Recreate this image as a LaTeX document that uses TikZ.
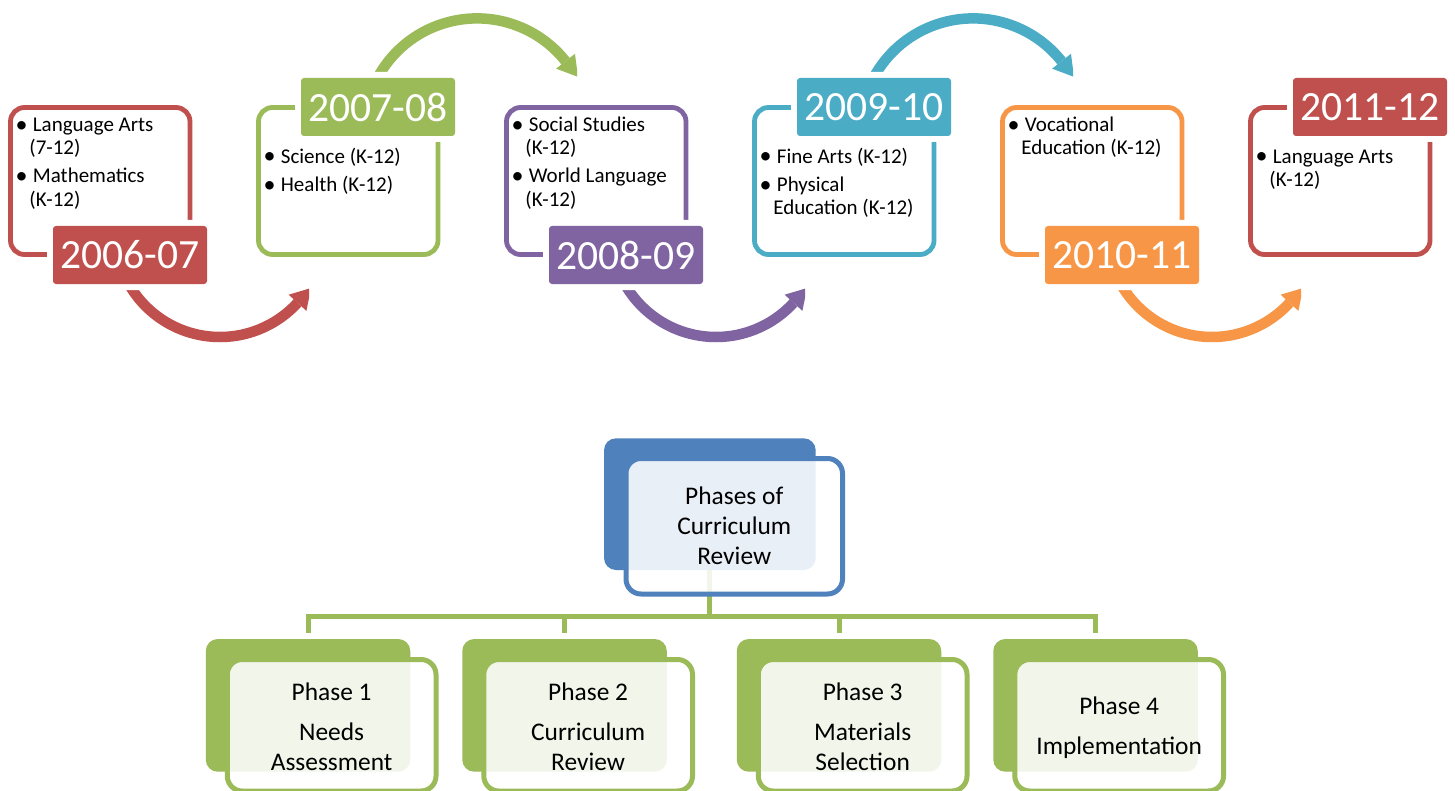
\documentclass[tikz,border=0pt]{standalone}
\usepackage{fontspec}
\setmainfont{Carlito}
\usetikzlibrary{calc}
\definecolor{cred}{HTML}{C0504D}
\definecolor{cgreen}{HTML}{9BBB59}
\definecolor{cpurple}{HTML}{8064A2}
\definecolor{cteal}{HTML}{4BACC6}
\definecolor{corange}{HTML}{F79646}
\definecolor{cblue}{HTML}{4F81BD}
\newcommand\oddarrow[3]{%
  \coordinate (#3) at (#1,232);
  \begin{scope}
    \clip (0,0) rectangle (#1+89,400);
    \draw[arrowband=#2] ($(#3)+(155:105)$) arc[start angle=155,end angle=42.4,radius=105];
    \fill[#2] ($(#3)+(42.4:93)$) -- ($(#3)+(42.4:117)$) -- ($(#3)+(42.4:105)+(-47.6:20)$) -- cycle;
  \end{scope}}
\newcommand\evenarrow[3]{%
  \coordinate (#3) at (#1,131.4);
  \begin{scope}
    \clip (0,0) rectangle (#1+100,400);
    \draw[arrowband=#2] ($(#3)+(205:113)$) arc[start angle=205,end angle=321.6,radius=113];
    \fill[#2] ($(#3)+(321.6:101)$) -- ($(#3)+(321.6:125)$) -- ($(#3)+(321.6:113)+(51.6:20)$) -- cycle;
  \end{scope}}
\begin{document}
\begin{tikzpicture}[x=0.5pt,y=-0.5pt,
  frame/.style={draw=#1, line width=2.4pt, rounded corners=7pt, minimum width=89.75pt, minimum height=73.5pt, inner sep=0pt, outer sep=0pt},
  year/.style={fill=#1, rounded corners=1.5pt, minimum width=77pt, minimum height=29pt, inner sep=0pt, outer sep=0pt, text=white, font=\fontsize{20.8}{24}\selectfont, preaction={draw=white, line width=6pt}},
  bul/.style={anchor=base, inner sep=0pt, font=\fontsize{12}{12}\selectfont},
  itm/.style={anchor=base west, inner sep=0pt, font=\fontsize{10.5}{12}\selectfont},
  arrowband/.style={draw=#1, line width=5.25pt},
  conn/.style={draw=cgreen, line width=2.5pt, line join=miter},
  hfill/.style={fill=#1, rounded corners=6pt, inner sep=0pt, outer sep=0pt},
  hout/.style={draw=#1, line width=2.5pt, fill=white, fill opacity=0.88, rounded corners=7.5pt, inner sep=0pt, outer sep=0pt},
  ptext/.style={align=center, inner sep=0pt, font=\fontsize{12.7}{15}\selectfont}
]
\clip (0,0) rectangle (1455,791);
\fill[white] (0,0) rectangle (1455,791);

% curved arrows
\oddarrow{220}{cred}{ac1}
\evenarrow{477}{cgreen}{ac2}
\oddarrow{716}{cpurple}{ac3}
\evenarrow{973}{cteal}{ac4}
\oddarrow{1212}{corange}{ac5}

% frames
\node[frame=cred]    (f1) at (100.25,181) {};
\node[frame=cgreen]  (f2) at (348.25,181) {};
\node[frame=cpurple] (f3) at (596.25,181) {};
\node[frame=cteal]   (f4) at (844.25,181) {};
\node[frame=corange] (f5) at (1092.25,181) {};
\node[frame=cred]    (f6) at (1340.25,181) {};

% year labels
\node[year=cred]    (y1) at (130,255) {2006-07};
\node[year=cgreen]  (y2) at (378,107) {2007-08};
\node[year=cpurple] (y3) at (626,255) {2008-09};
\node[year=cteal]   (y4) at (874,107) {2009-10};
\node[year=corange] (y5) at (1122,255) {2010-11};
\node[year=cred]    (y6) at (1370,107) {2011-12};

% box 1
\node[bul] (u1a) at (21.5,132.3) {•};
\node[itm] (t1a) at (32.5,131.7) {Language Arts};
\node[itm] (t1b) at (29,155) {(7-12)};
\node[bul] (u1c) at (21.5,183.1) {•};
\node[itm] (t1c) at (32.5,182.5) {Mathematics};
\node[itm] (t1d) at (29,206) {(K-12)};
% box 2
\node[bul] (u2a) at (269.5,163.9) {•};
\node[itm] (t2a) at (280.5,163.3) {Science (K-12)};
\node[bul] (u2b) at (269.5,192.3) {•};
\node[itm] (t2b) at (280.5,191.7) {Health (K-12)};
% box 3
\node[bul] (u3a) at (517.5,132.3) {•};
\node[itm] (t3a) at (528.5,131.7) {Social Studies};
\node[itm] (t3b) at (525,155) {(K-12)};
\node[bul] (u3c) at (517.5,183.1) {•};
\node[itm] (t3c) at (528.5,182.5) {World Language};
\node[itm] (t3d) at (525,206) {(K-12)};
% box 4
\node[bul] (u4a) at (765.5,163.9) {•};
\node[itm] (t4a) at (776.5,163.3) {Fine Arts (K-12)};
\node[bul] (u4b) at (765.5,192.3) {•};
\node[itm] (t4b) at (776.5,191.7) {Physical};
\node[itm] (t4c) at (773,214) {Education (K-12)};
% box 5
\node[bul] (u5a) at (1013.5,132.3) {•};
\node[itm] (t5a) at (1024.5,131.7) {Vocational};
\node[itm] (t5b) at (1021,155) {Education (K-12)};
% box 6
\node[bul] (u6a) at (1261.5,163.9) {•};
\node[itm] (t6a) at (1272.5,163.3) {Language Arts};
\node[itm] (t6b) at (1269,186.5) {(K-12)};

% hierarchy
\node[hfill=cblue, minimum width=105.85pt, minimum height=65.85pt] (hdrfill) at (709.85,504.15) {};
\node[hfill=cgreen, minimum width=102.25pt, minimum height=66.35pt] (c1fill) at (308,705.35) {};
\node[hfill=cgreen, minimum width=102.25pt, minimum height=66.35pt] (c2fill) at (564.5,705.35) {};
\node[hfill=cgreen, minimum width=102.25pt, minimum height=66.35pt] (c3fill) at (839,705.35) {};
\node[hfill=cgreen, minimum width=102.25pt, minimum height=66.35pt] (c4fill) at (1095.5,705.35) {};

\coordinate (bary) at (0,616.7);
\draw[conn] (hdrfill.south) -- (hdrfill.south |- bary);
\draw[conn] ([yshift=3pt]c1fill.north) -- (c1fill.north |- bary) -- (c4fill.north |- bary) -- ([yshift=3pt]c4fill.north);
\draw[conn] ([yshift=3pt]c2fill.north) -- (c2fill.north |- bary);
\draw[conn] ([yshift=3pt]c3fill.north) -- (c3fill.north |- bary);

\node[hout=cblue, minimum width=108.25pt, minimum height=67.75pt] (hdrout) at (734.25,526.25) {};
\node[hout=cgreen, minimum width=104.35pt, minimum height=65.75pt] (c1out) at (331.65,725.25) {};
\node[hout=cgreen, minimum width=104.35pt, minimum height=65.75pt] (c2out) at (588.15,725.25) {};
\node[hout=cgreen, minimum width=104.35pt, minimum height=65.75pt] (c3out) at (862.65,725.25) {};
\node[hout=cgreen, minimum width=104.35pt, minimum height=65.75pt] (c4out) at (1119.15,725.25) {};

\node[ptext] (hdrtext) at (hdrout.center) {Phases of\\Curriculum\\Review};
\node[ptext] (c1text) at ([yshift=-1pt]c1out.center) {Phase 1\\[5pt]Needs\\Assessment};
\node[ptext] (c2text) at ([yshift=-1pt]c2out.center) {Phase 2\\[5pt]Curriculum\\Review};
\node[ptext] (c3text) at ([yshift=-1pt]c3out.center) {Phase 3\\[5pt]Materials\\Selection};
\node[ptext] (c4text) at ([yshift=-1pt]c4out.center) {Phase 4\\[5pt]Implementation};
\end{tikzpicture}
\end{document}
